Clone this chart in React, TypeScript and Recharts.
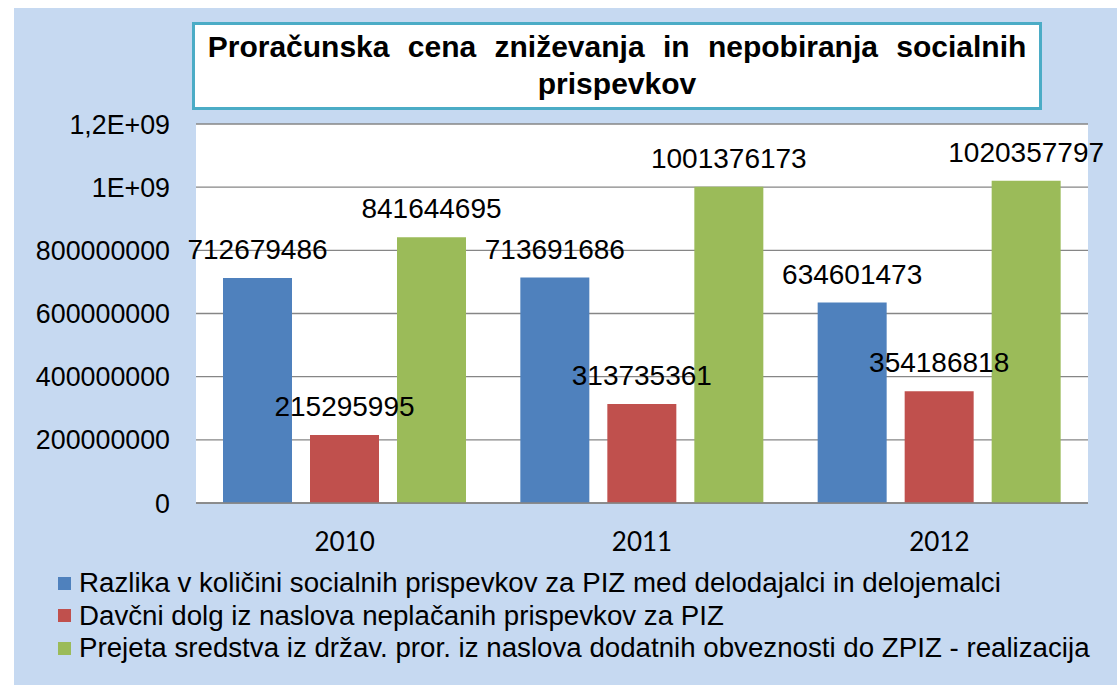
import { BarChart, Bar, XAxis, YAxis, CartesianGrid, LabelList } from "recharts";

const years = ["2010", "2011", "2012"];
const razlika = [712679486, 713691686, 634601473];
const davcniDolg = [215295995, 313735361, 354186818];
const prejeta = [841644695, 1001376173, 1020357797];

const yTicks = [0, 200000000, 400000000, 600000000, 800000000, 1000000000, 1200000000];
const yTickLabels = ["0", "200000000", "400000000", "600000000", "800000000", "1E+09", "1,2E+09"];

const seriesNames = [
  "Razlika v količini socialnih prispevkov za PIZ med delodajalci in delojemalci",
  "Davčni dolg iz naslova neplačanih prispevkov za PIZ",
  "Prejeta sredstva iz držav. pror. iz naslova dodatnih obveznosti do ZPIZ - realizacija",
];
const seriesKeys = ["razlika", "dolg", "prejeta"];
const seriesColors = ["#4f81bd", "#c0504d", "#9bbb59"];

const data = years.map((y, i) => ({
  year: y,
  razlika: razlika[i],
  dolg: davcniDolg[i],
  prejeta: prejeta[i],
}));

const sans = "'Liberation Sans', Arial, sans-serif";

export default function App() {
  return (
    <div
      style={{
        position: "absolute",
        left: 14,
        top: 8,
        width: 1103,
        height: 677,
        background: "#c6d9f1",
        fontFamily: sans,
        overflow: "hidden",
      }}
    >
      <div
        style={{
          position: "absolute",
          left: 178,
          top: 14,
          width: 844,
          height: 79,
          background: "#fff",
          border: "3px solid #4bacc6",
          textAlign: "center",
          fontWeight: "bold",
          fontSize: 30,
          lineHeight: "37px",
          paddingTop: 3,
          color: "#000",
          wordSpacing: 10,
          whiteSpace: "nowrap",
        }}
      >
        Proračunska cena zniževanja in nepobiranja socialnih
        <br />
        prispevkov
      </div>

      <div style={{ position: "absolute", left: 0, top: 0 }}>
        <BarChart
          width={1103}
          height={677}
          data={data}
          margin={{ top: 116, right: 29, left: 0, bottom: 152 }}
          barSize={69}
          barGap={18}
        >
          <CartesianGrid vertical={false} stroke="#868686" strokeWidth={1.3} fill="#fff" />
          <XAxis
            dataKey="year"
            height={30}
            axisLine={{ stroke: "#868686", strokeWidth: 1.3 }}
            tickLine={false}
            tickSize={0}
            tickMargin={30}
            tick={{ fill: "#000", fontSize: 26, fontFamily: "Lato, sans-serif" }}
          />
          <YAxis
            width={182}
            domain={[0, 1200000000]}
            ticks={yTicks}
            interval={0}
            axisLine={false}
            tickLine={false}
            tickSize={0}
            tickMargin={26}
            tickFormatter={(v: number) => yTickLabels[yTicks.indexOf(v)] ?? String(v)}
            tick={{ fill: "#000", fontSize: 26.8, fontFamily: sans }}
          />
          {seriesKeys.map((k, i) => (
            <Bar key={k} dataKey={k} fill={seriesColors[i]} isAnimationActive={false}>
              <LabelList
                dataKey={k}
                position="top"
                offset={19}
                fill="#000"
                fontSize={28}
                fontFamily={sans}
              />
            </Bar>
          ))}
        </BarChart>
      </div>

      <div style={{ position: "absolute", left: 44, top: 559 }}>
        {seriesNames.map((n, i) => (
          <div
            key={n}
            style={{ display: "flex", alignItems: "center", height: 32.5, fontSize: 27.7, color: "#000" }}
          >
            <span
              style={{
                display: "inline-block",
                width: 13,
                height: 13,
                background: seriesColors[i],
                marginRight: 8,
              }}
            />
            <span style={{ whiteSpace: "nowrap" }}>{n}</span>
          </div>
        ))}
      </div>
    </div>
  );
}
